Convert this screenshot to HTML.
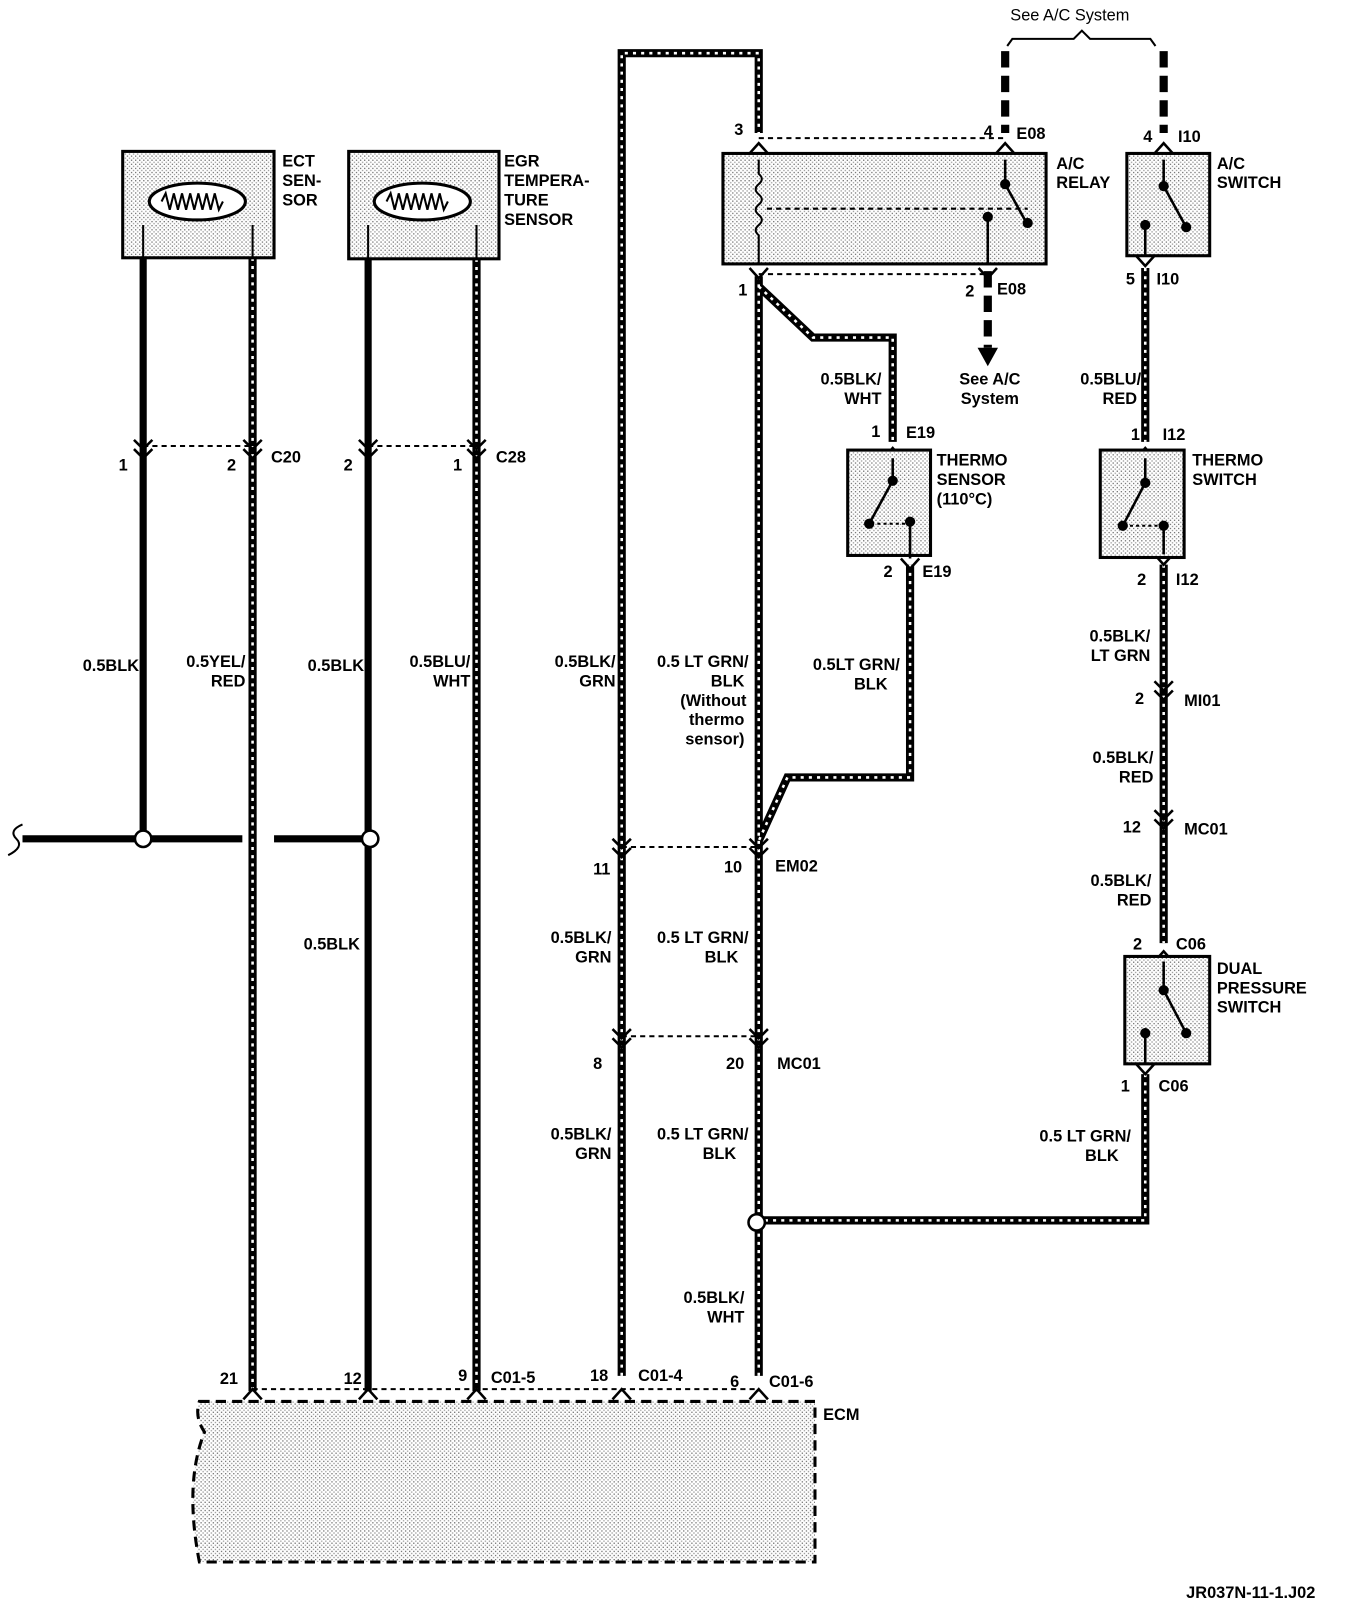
<!DOCTYPE html>
<html><head><meta charset="utf-8"><style>
html,body{margin:0;padding:0;background:#fff}
svg{display:block}
text{font-family:"Liberation Sans",sans-serif;font-weight:bold;font-size:16px;fill:#000}
</style></head><body>
<svg width="1360" height="1606" viewBox="0 0 1330 1570" preserveAspectRatio="none" xmlns="http://www.w3.org/2000/svg">
<defs>
<pattern id="st" width="4" height="4" patternUnits="userSpaceOnUse"><rect width="4" height="4" fill="#fff"/><rect x="0" y="0" width="1.3" height="1.3" fill="#777"/><rect x="2" y="2" width="1.3" height="1.3" fill="#999"/></pattern>
<path id="cv" d="M-9 -6 L0 3 L9 -6 M-9 3 L0 12 L9 3" fill="none" stroke="#000" stroke-width="2.5"/>
</defs>
<g fill="none" stroke="#000">
<g stroke-width="7">
<path d="M140 252 V820"/><path d="M360 253 V1360"/>
<path d="M22 820 H237 M268 820 H362"/>
</g>
<path d="M22 806 q-14 6 -6 14 q8 8 -8 16" stroke-width="2"/>
<path d="M247 252 V1360 M466 253 V1360 M608 1345 V52 H742 V130 M742 270 V1345 M742 280 L795 330 H873 V432 M890 552 V760 H770 L742 822 M1120 262 V432 M1138 552 V922 M1120 1050 V1193 H742" stroke-width="8"/>
<path d="M247 252 V1360 M466 253 V1360 M608 1345 V52 H742 V130 M742 270 V1345 M742 280 L795 330 H873 V432 M890 552 V760 H770 L742 822 M1120 262 V432 M1138 552 V922 M1120 1050 V1193 H742" stroke="#fff" stroke-width="2.5" stroke-dasharray="3 5"/>
<path d="M983 50 V130 M1138 50 V130 M966 265 V340" stroke-width="8" stroke-dasharray="16 8"/>
<path d="M985 45 L990 38 H1050 L1058 30 L1066 38 H1125 L1130 45" stroke-width="2"/>
<g stroke-width="2" stroke-dasharray="5 4">
<path d="M140 436 H247 M360 436 H466 M742 135 H983 M742 268 H966 M608 828 H742 M608 1013 H742 M247 1358 H742"/>
</g>
</g>
<g fill="#fff" stroke="#000" stroke-width="2.5">
<circle cx="140" cy="820" r="8"/><circle cx="362" cy="820" r="8"/><circle cx="740" cy="1195" r="8"/>
</g>
<use href="#cv" x="140" y="436"/><use href="#cv" x="247" y="436"/><use href="#cv" x="360" y="436"/><use href="#cv" x="466" y="436"/>
<use href="#cv" x="608" y="826"/><use href="#cv" x="742" y="826"/><use href="#cv" x="608" y="1012"/><use href="#cv" x="742" y="1012"/>
<use href="#cv" x="1138" y="672"/><use href="#cv" x="1138" y="798"/>
<g fill="none" stroke="#000" stroke-width="2.5">
<path d="M238 1368 L247 1358 L256 1368 M351 1368 L360 1358 L369 1368 M457 1368 L466 1358 L475 1368 M599 1368 L608 1358 L617 1368 M733 1368 L742 1358 L751 1368"/>
<path d="M733 150 L742 140 L751 150 M733 262 L742 272 L751 262 M974 150 L983 140 L992 150 M957 262 L966 272 L975 262 M1129 150 L1138 140 L1147 150 M1111 250 L1120 260 L1129 250 M864 448 L873 438 L882 448 M881 546 L890 556 L899 546 M1111 448 L1120 438 L1129 448 M1129 542 L1138 552 L1147 542 M1129 940 L1138 930 L1147 940 M1111 1040 L1120 1050 L1129 1040"/>
</g>
<path d="M966 340 L956 340 L966 358 L976 340 Z" fill="#000"/>
<g stroke="#000" stroke-width="3" fill="url(#st)">
<rect x="120" y="148" width="148" height="104"/>
<rect x="341" y="148" width="147" height="105"/>
<rect x="707" y="150" width="316" height="108"/>
<rect x="1102" y="150" width="81" height="100"/>
<rect x="829" y="440" width="81" height="103"/>
<rect x="1076" y="440" width="82" height="105"/>
<rect x="1100" y="935" width="83" height="105"/>
</g>
<g stroke="#000" stroke-width="3" fill="#fff">
<ellipse cx="193" cy="197" rx="47" ry="18"/><ellipse cx="413" cy="197" rx="47" ry="18"/>
</g>
<g fill="none" stroke="#000" stroke-width="2">
<path d="M158 197 l4 -8 l4 16 l4 -16 l4 16 l4 -16 l4 16 l4 -16 l4 16 l4 -16 l4 16 l4 -16 l4 16 l4 -16 l4 16 l4 -8"/>
<path d="M378 197 l4 -8 l4 16 l4 -16 l4 16 l4 -16 l4 16 l4 -16 l4 16 l4 -16 l4 16 l4 -16 l4 16 l4 -16 l4 16 l4 -8"/>
<path d="M140 220 V252 M247 220 V252 M360 220 V253 M466 220 V253"/>
<path d="M742 156 V170 q6 5 0 10 q-6 5 0 10 q6 5 0 10 q-6 5 0 10 q6 5 0 10 q-6 5 0 10 V258"/>
<path d="M750 204 H1005" stroke-dasharray="5 4"/>
<path d="M983 156 V180 L1005 220 M966 258 V212" stroke-width="2.5"/>
<path d="M1138 156 V182 L1160 222 M1120 250 V220" stroke-width="2.5"/>
<path d="M873 448 V470 L850 512 M890 546 V510" stroke-width="2.5"/>
<path d="M1120 448 V472 L1098 514 M1138 542 V514" stroke-width="2.5"/>
<path d="M1138 940 V968 L1160 1010 M1120 1040 V1010" stroke-width="2.5"/>
<path d="M858 512 H890 M1105 514 H1138" stroke-dasharray="3 3"/>
</g>
<g fill="#000">
<circle cx="983" cy="180" r="5"/><circle cx="1005" cy="218" r="5"/><circle cx="966" cy="212" r="5"/>
<circle cx="1138" cy="182" r="5"/><circle cx="1160" cy="222" r="5"/><circle cx="1120" cy="220" r="5"/>
<circle cx="873" cy="470" r="5"/><circle cx="850" cy="512" r="5"/><circle cx="890" cy="510" r="5"/>
<circle cx="1120" cy="472" r="5"/><circle cx="1098" cy="514" r="5"/><circle cx="1138" cy="514" r="5"/>
<circle cx="1138" cy="968" r="5"/><circle cx="1160" cy="1010" r="5"/><circle cx="1120" cy="1010" r="5"/>
</g>
<path d="M195 1370 H797 V1527 H195 Q180 1450 200 1400 Q190 1385 195 1370 Z" fill="url(#st)" stroke="#000" stroke-width="3" stroke-dasharray="10 6"/>
<text x="276" y="163">ECT</text><text x="276" y="182">SEN-</text><text x="276" y="201">SOR</text>
<text x="493" y="163">EGR</text><text x="493" y="182">TEMPERA-</text><text x="493" y="201">TURE</text><text x="493" y="220">SENSOR</text>
<text x="1033" y="165">A/C</text><text x="1033" y="184">RELAY</text>
<text x="1190" y="165">A/C</text><text x="1190" y="184">SWITCH</text>
<text x="916" y="455">THERMO</text><text x="916" y="474">SENSOR</text><text x="916" y="493">(110°C)</text>
<text x="1166" y="455">THERMO</text><text x="1166" y="474">SWITCH</text>
<text x="1190" y="952">DUAL</text><text x="1190" y="971">PRESSURE</text><text x="1190" y="990">SWITCH</text>
<text x="805" y="1388">ECM</text>
<text x="988" y="20" style="font-weight:normal">See A/C System</text>
<g text-anchor="middle" style="font-weight:normal"><text x="968" y="376">See A/C</text><text x="968" y="395">System</text></g>
<g font-size="15">
<text x="116" y="460">1</text><text x="222" y="460">2</text><text x="265" y="452">C20</text>
<text x="336" y="460">2</text><text x="443" y="460">1</text><text x="485" y="452">C28</text>
<text x="718" y="132">3</text><text x="962" y="134">4</text><text x="994" y="136">E08</text>
<text x="722" y="289">1</text><text x="944" y="290">2</text><text x="975" y="288">E08</text>
<text x="1118" y="139">4</text><text x="1152" y="139">I10</text>
<text x="1101" y="278">5</text><text x="1131" y="278">I10</text>
<text x="852" y="427">1</text><text x="886" y="428">E19</text>
<text x="864" y="564">2</text><text x="902" y="564">E19</text>
<text x="1106" y="430">1</text><text x="1137" y="430">I12</text>
<text x="1112" y="572">2</text><text x="1150" y="572">I12</text>
<text x="1110" y="688">2</text><text x="1158" y="690">MI01</text>
<text x="1098" y="814">12</text><text x="1158" y="816">MC01</text>
<text x="1108" y="928">2</text><text x="1150" y="928">C06</text>
<text x="1096" y="1067">1</text><text x="1133" y="1067">C06</text>
<text x="580" y="855">11</text><text x="708" y="853">10</text><text x="758" y="852">EM02</text>
<text x="580" y="1045">8</text><text x="710" y="1045">20</text><text x="760" y="1045">MC01</text>
<text x="215" y="1353">21</text><text x="336" y="1353">12</text><text x="448" y="1350">9</text><text x="480" y="1352">C01-5</text>
<text x="577" y="1350">18</text><text x="624" y="1350">C01-4</text><text x="714" y="1356">6</text><text x="752" y="1356">C01-6</text>
</g>
<g font-size="15" text-anchor="end">
<text x="136" y="656">0.5BLK</text>
<text x="240" y="652">0.5YEL/</text><text x="240" y="671">RED</text>
<text x="356" y="656">0.5BLK</text>
<text x="460" y="652">0.5BLU/</text><text x="460" y="671">WHT</text>
<text x="352" y="928">0.5BLK</text>
<text x="602" y="652">0.5BLK/</text><text x="602" y="671">GRN</text>
<text x="732" y="652">0.5 LT GRN/</text><text x="728" y="671">BLK</text><text x="730" y="690">(Without</text><text x="728" y="709">thermo</text><text x="728" y="728">sensor)</text>
<text x="880" y="655">0.5LT GRN/</text><text x="868" y="674">BLK</text>
<text x="862" y="376">0.5BLK/</text><text x="862" y="395">WHT</text>
<text x="1116" y="376">0.5BLU/</text><text x="1112" y="395">RED</text>
<text x="1125" y="627">0.5BLK/</text><text x="1125" y="646">LT GRN</text>
<text x="1128" y="746">0.5BLK/</text><text x="1128" y="765">RED</text>
<text x="1126" y="866">0.5BLK/</text><text x="1126" y="885">RED</text>
<text x="598" y="922">0.5BLK/</text><text x="598" y="941">GRN</text>
<text x="732" y="922">0.5 LT GRN/</text><text x="722" y="941">BLK</text>
<text x="598" y="1114">0.5BLK/</text><text x="598" y="1133">GRN</text>
<text x="732" y="1114">0.5 LT GRN/</text><text x="720" y="1133">BLK</text>
<text x="728" y="1274">0.5BLK/</text><text x="728" y="1293">WHT</text>
<text x="1106" y="1116">0.5 LT GRN/</text><text x="1094" y="1135">BLK</text>
</g>
<text x="1160" y="1562" font-size="15">JR037N-11-1.J02</text>
</svg>
</body></html>
